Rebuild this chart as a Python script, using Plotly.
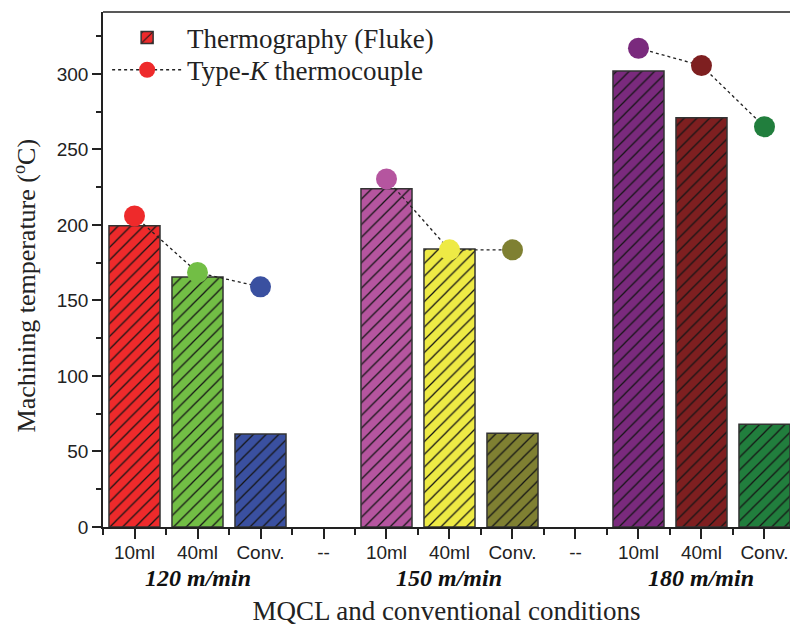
import plotly.graph_objects as go

tick_labels = ["10ml", "40ml", "Conv.", "--", "10ml", "40ml", "Conv.", "--", "10ml", "40ml", "Conv."]
bar_x = [0, 1, 2, 4, 5, 6, 8, 9, 10]
fluke = [199.5, 165.5, 61.5, 224, 184, 62, 302, 271, 68]
tc_groups_x = [[0, 1, 2], [4, 5, 6], [8, 9, 10]]
thermocouple = [[206, 168.5, 159], [230.5, 183.5, 183.5], [317, 305.5, 265]]
colors = ["#EE2A2B", "#72BE45", "#3A50A0", "#B5559F", "#EEEA45", "#7F8032",
          "#7A2A7D", "#7E1F20", "#217E3D"]
groups = ["120 m/min", "150 m/min", "180 m/min"]
group_x = [1, 5, 9]

serif = "Liberation Serif"
sans = "Liberation Sans"

fig = go.Figure()
fig.add_trace(go.Bar(
    x=bar_x, y=fluke, width=0.81, name="Thermography (Fluke)", legend="legend",
    marker=dict(color=colors[0], line=dict(color="#333333", width=1.5),
                pattern=dict(shape="/", fillmode="replace", bgcolor=colors, fgcolor="#151515",
                             fgopacity=1, size=9, solidity=0.14)),
))

lx, ly = [], []
for gx, gy in zip(tc_groups_x, thermocouple):
    lx += gx + [None]
    ly += gy + [None]
fig.add_trace(go.Scatter(
    x=lx, y=ly, mode="lines", line=dict(color="#222222", width=1.3, dash="dot"),
    showlegend=False, hoverinfo="skip"))
px = [v for g in tc_groups_x for v in g]
py = [v for g in thermocouple for v in g]
fig.add_trace(go.Scatter(
    x=px, y=py, mode="markers", name="Type-<i>K</i> thermocouple",
    marker=dict(color=colors, size=21, line=dict(width=0)), showlegend=False,
))
fig.add_trace(go.Scatter(
    x=[None], y=[None], mode="lines+markers", name="Type-<i>K</i> thermocouple",
    legend="legend2",
    line=dict(color="#222222", width=1.3, dash="dot"),
    marker=dict(color=colors[0], size=21)))

for g, x in zip(groups, group_x):
    fig.add_annotation(x=x, y=-0.099, xref="x", yref="paper", text="<b><i>" + g + "</i></b>",
                       showarrow=False, yanchor="middle",
                       font=dict(family=serif, size=24, color="#111"))

fig.add_annotation(x=-0.1135, y=0.469, xref="paper", yref="paper", textangle=-90,
                   text="Machining temperature (<sup>o</sup>C)", showarrow=False,
                   xanchor="center", yanchor="middle",
                   font=dict(family=serif, size=26, color="#222"))

fig.add_shape(type="line", xref="paper", yref="paper", x0=0, x1=1, y0=1, y1=1,
              line=dict(color="#222222", width=1.5))

leg_common = dict(xanchor="left", yanchor="middle", font=dict(family=serif, size=27, color="#222"),
                  bgcolor="rgba(0,0,0,0)", itemwidth=70)
fig.update_layout(
    width=790, height=626,
    margin=dict(l=103, r=0, t=12, b=99),
    plot_bgcolor="white", paper_bgcolor="white",
    showlegend=True,
    legend=dict(x=0.006, y=0.9495, **leg_common),
    legend2=dict(x=0.006, y=0.887, **leg_common),
    xaxis=dict(range=[-0.5, 10.405], tickvals=list(range(11)), ticktext=tick_labels,
               ticks="outside", ticklen=10, tickwidth=1.5, tickcolor="#222",
               showline=True, linecolor="#222", linewidth=1.5, showgrid=False, zeroline=False,
               automargin=False, ticklabelstandoff=-3,
               tickfont=dict(family=sans, size=19, color="#222"),
               minor=dict(tickvals=[i - 0.5 for i in range(12)], ticks="outside", ticklen=6,
                          tickwidth=1.5, tickcolor="#222"),
               title=dict(text="MQCL and conventional conditions", standoff=45,
                          font=dict(family=serif, size=27, color="#222"))),
    yaxis=dict(range=[0, 341], tickvals=[0, 50, 100, 150, 200, 250, 300],
               ticks="outside", ticklen=9, tickwidth=1.5, tickcolor="#222",
               showline=True, linecolor="#222", linewidth=1.5, showgrid=False, zeroline=False,
               automargin=False,
               tickfont=dict(family=sans, size=19, color="#222"),
               minor=dict(tickvals=[25, 75, 125, 175, 225, 275, 325], ticks="outside", ticklen=5,
                          tickwidth=1.5, tickcolor="#222")),
)

fig.write_html("out.html", config={"displayModeBar": False},
               post_script="document.body.style.margin='0';document.body.style.overflow='hidden';")
